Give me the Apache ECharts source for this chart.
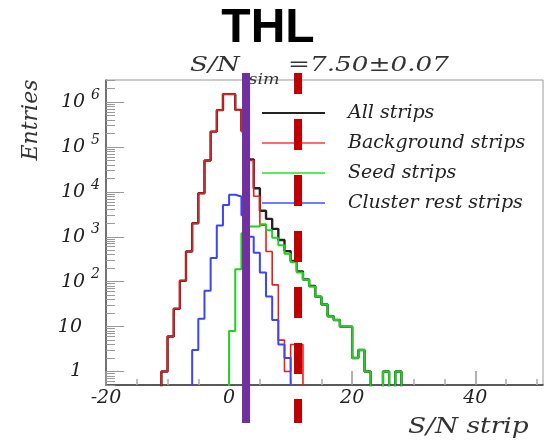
<!DOCTYPE html>
<html><head><meta charset="utf-8">
<script src="https://cdn.jsdelivr.net/npm/echarts@6/dist/echarts.min.js"></script>
<style>html,body{margin:0;padding:0;background:#fff}#c{width:544px;height:440px}</style>
</head><body><div id="c"></div>
<script>
// ---- data (bin width 1, values = entries per bin) ----
const binWidth = 1;
const allStart = -11;
const allStrips = [1, 6, 25, 105, 470, 2000, 9300, 50000, 220000, 660000, 1500000, 1500000,
  670000, 230000, 53000, 12000, 3800, 2500, 1500, 850, 480, 290, 170, 112, 80, 46, 31, 17, 14, 10, 10,
  2, 3, 1, 0, 0, 1, 0, 1];
const bkgStart = -11;
const backgroundStrips = [1, 6, 25, 105, 470, 2000, 9300, 50000, 220000, 660000, 1500000, 1500000,
  660000, 220000, 50000, 8000, 1800, 470, 85, 5, 1, 4, 4];
const seedStart = 0;
const seedStrips = [8, 190, 1200, 1700, 1700, 1900, 1400, 950, 650, 420, 270, 160, 110, 78, 46, 31, 17, 14, 10, 10,
  2, 3, 1, 0, 0, 1, 0, 1];
const clusterStart = -6;
const clusterRestStrips = [3, 15, 63, 335, 1780, 5100, 8600, 7900, 3000, 1000, 440, 160, 47, 14, 4, 2];

const seriesNames = ['All strips', 'Background strips', 'Seed strips', 'Cluster rest strips'];
const xMajorTicks = [-20, 0, 20, 40];
const xMinorTicks = [-15, -10, -5, 5, 10, 15, 25, 30, 35, 45, 50];
const yMajorTicks = [1, 10, 100, 1000, 10000, 100000, 1000000];
const yMinorTicks = [];
[0.1, 1, 10, 100, 1000, 10000, 100000, 1000000].forEach(d => {
  for (let k = 2; k <= 9; k++) yMinorTicks.push(d * k);
});
const thlPosition = 2.75;     // purple THL marker (S/N)
const dashedPosition = 11.2;  // red dashed marker (S/N)
const titleText = 'THL';

const X_MIN = -20, X_MAX = 51, Y_MIN = 0.5, Y_MAX = 3.1e6;
const FLOOR = 0.05; // empty bins drawn below the frame (clipped)

function histData(start, vals) {
  const d = [[start, FLOOR]];
  vals.forEach((v, i) => d.push([start + i * binWidth, v > 0 ? v : FLOOR]));
  d.push([start + vals.length * binWidth, FLOOR]);
  return d;
}

const serifFont = 'DejaVu Serif';
const chart = echarts.init(document.getElementById('c'), null, {renderer: 'canvas'});

function yLabel(v) {
  const lg = Math.log10(v);
  const e = Math.round(lg);
  if (Math.abs(lg - e) > 1e-6 || e < 0 || e > 6) return '';
  if (e === 0) return '{b|1}{p|}';
  if (e === 1) return '{b|10}{p|}';
  return '{b|10}{s|' + e + '}';
}

function mkSeries(name, start, vals, color, width, z) {
  return {
    name, type: 'line', step: 'end', data: histData(start, vals),
    showSymbol: false, symbol: 'none', clip: true, z,
    lineStyle: {color, width}, itemStyle: {color}, silent: true
  };
}

chart.setOption({
  animation: false,
  backgroundColor: '#fff',
  grid: {left: 106, right: 1, top: 80, bottom: 55, show: true, borderColor: '#999', borderWidth: 1, backgroundColor: 'transparent'},
  legend: {
    orient: 'vertical', left: 257, top: 98, itemWidth: 63, itemHeight: 2, itemGap: 10,
    icon: 'rect', selectedMode: false,
    textStyle: {fontFamily: serifFont, fontStyle: 'italic', fontSize: 19, color: '#222', lineHeight: 20, padding: [0, 0, 0, 18]},
    data: [
      {name: seriesNames[0], itemStyle: {color: '#222'}},
      {name: seriesNames[1], itemStyle: {color: '#ff6b6b'}},
      {name: seriesNames[2], itemStyle: {color: '#55ee55'}},
      {name: seriesNames[3], itemStyle: {color: '#6f7cff'}}
    ]
  },
  xAxis: [{
    type: 'value', min: X_MIN, max: X_MAX, interval: 20,
    axisLine: {show: true, onZero: false, lineStyle: {color: '#333', width: 1.5}},
    axisTick: {show: true, inside: true, length: 14, customValues: xMajorTicks, lineStyle: {color: '#999', width: 1.5}},
    axisLabel: {show: true, customValues: xMajorTicks, margin: 4,
      fontFamily: serifFont, fontStyle: 'italic', fontSize: 19, color: '#222'},
    splitLine: {show: false}
  }, {
    type: 'value', min: X_MIN, max: X_MAX, position: 'bottom',
    axisLine: {show: false, onZero: false}, axisLabel: {show: false}, splitLine: {show: false},
    axisTick: {show: true, inside: true, length: 6, customValues: xMinorTicks, lineStyle: {color: '#aaa', width: 1.5}}
  }],
  yAxis: [{
    type: 'log', logBase: 10, min: Y_MIN, max: Y_MAX,
    axisLine: {show: true, onZero: false, lineStyle: {color: '#555', width: 1.5}},
    axisTick: {show: true, inside: true, length: 18, customValues: yMajorTicks, lineStyle: {color: '#999'}},
    axisLabel: {
      show: true, customValues: yMajorTicks, margin: 6,
      formatter: yLabel,
      rich: {
        b: {fontFamily: serifFont, fontStyle: 'italic', fontSize: 19, color: '#222', lineHeight: 28},
        s: {fontFamily: serifFont, fontStyle: 'italic', fontSize: 14, color: '#222', verticalAlign: 'top', lineHeight: 28, padding: [0, 0, 0, 6]},
        p: {width: 18}
      }
    },
    splitLine: {show: false}
  }, {
    type: 'log', logBase: 10, min: Y_MIN, max: Y_MAX, position: 'left',
    axisLine: {show: false, onZero: false}, axisLabel: {show: false}, splitLine: {show: false},
    axisTick: {show: true, inside: true, length: 9, customValues: yMinorTicks, lineStyle: {color: '#999'}}
  }],
  series: [
    mkSeries(seriesNames[0], allStart, allStrips, '#222', 2.4, 2),
    mkSeries(seriesNames[1], bkgStart, backgroundStrips, '#ee1c1c', 1.6, 3),
    mkSeries(seriesNames[2], seedStart, seedStrips, '#1fd01f', 2, 4),
    mkSeries(seriesNames[3], clusterStart, clusterRestStrips, '#3a44ff', 2, 5)
  ]
});

const px1 = chart.convertToPixel({xAxisIndex: 0}, thlPosition);
const px2 = chart.convertToPixel({xAxisIndex: 0}, dashedPosition);

chart.setOption({
  graphic: {elements: [
    {type: 'text', x: 268, y: 29, z: 50, style: {text: titleText, font: 'bold 48px "Liberation Sans"', fill: '#000', align: 'center', verticalAlign: 'middle'}},
    {type: 'text', x: 190, y: 66, scaleX: 1.25, z: 50, style: {
      text: '{m|S/N}{s|sim}{m| =7.50±0.07}', verticalAlign: 'middle',
      rich: {
        m: {fontFamily: serifFont, fontStyle: 'italic', fontSize: 21, fill: '#333', lineHeight: 26},
        s: {fontFamily: serifFont, fontStyle: 'italic', fontSize: 14, fill: '#333', lineHeight: 26, verticalAlign: 'bottom', padding: [0, 0, -8, 7]}
      }
    }},
    {type: 'text', x: 31, y: 120, rotation: Math.PI / 2, z: 50, style: {text: 'Entries', font: 'italic 22px "DejaVu Serif"', fill: '#333', align: 'center', verticalAlign: 'middle'}},
    {type: 'text', x: 408, y: 427, scaleX: 1.2, z: 50, style: {text: 'S/N strip', font: 'italic 22px "DejaVu Serif"', fill: '#333', align: 'left', verticalAlign: 'middle'}},
    {type: 'line', z: 100, shape: {x1: px1, y1: 73, x2: px1, y2: 423}, style: {stroke: '#7030a0', lineWidth: 8}},
    {type: 'line', z: 100, shape: {x1: px2, y1: 73, x2: px2, y2: 423}, style: {stroke: '#c00000', lineWidth: 8, lineDash: [31, 25], lineDashOffset: 10}}
  ]}
});
</script></body></html>
